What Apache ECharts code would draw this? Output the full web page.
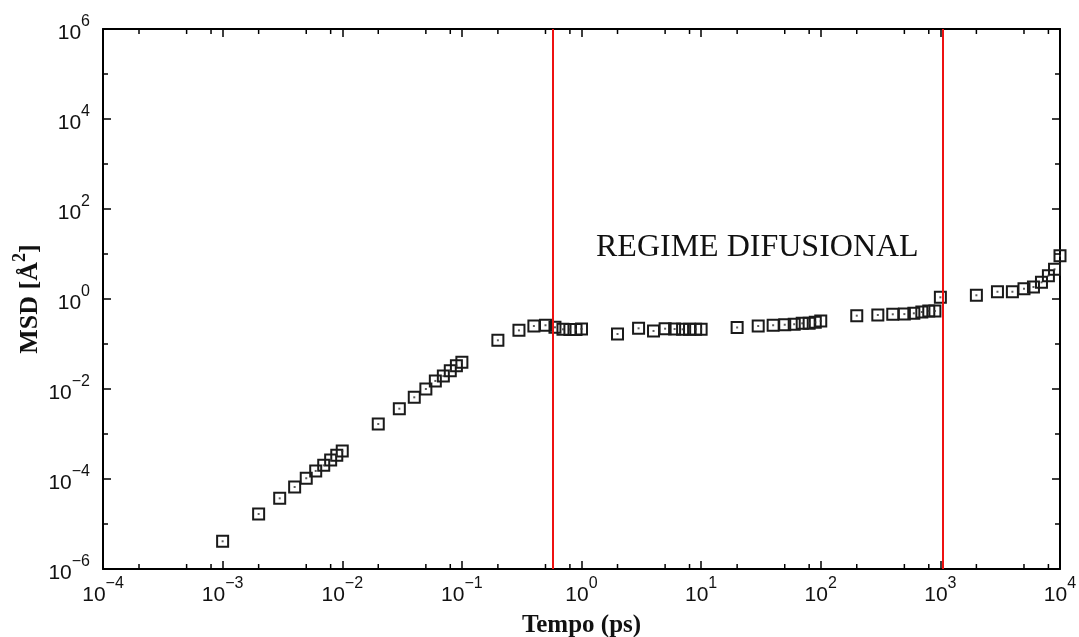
<!DOCTYPE html>
<html>
<head>
<meta charset="utf-8">
<script src="https://cdn.jsdelivr.net/npm/echarts@6/dist/echarts.min.js"></script>
<style>
html,body{margin:0;padding:0;background:#fff;}
#chart{width:1079px;height:637px;}
</style>
</head>
<body>
<div id="chart"></div>
<script>
// Tempo (ps)
const tempo = [
  0.001,0.002,0.003,0.004,0.005,0.006,0.007,0.008,0.009,0.01,
  0.02,0.03,0.04,0.05,0.06,0.07,0.08,0.09,0.1,
  0.2,0.3,0.4,0.5,0.6,0.7,0.8,0.9,1,
  2,3,4,5,6,7,8,9,10,
  20,30,40,50,60,70,80,90,100,
  200,300,400,500,600,700,800,900,1000,
  2000,3000,4000,5000,6000,7000,8000,9000,10000
];
// MSD [Å^2]
const msd = [
  4.13e-6,1.67e-5,3.72e-5,6.64e-5,1.04e-4,1.51e-4,2.01e-4,2.64e-4,3.36e-4,4.19e-4,
  1.67e-3,3.65e-3,6.54e-3,1.0e-2,1.51e-2,1.94e-2,2.55e-2,3.3e-2,3.92e-2,
  0.121,0.201,0.251,0.261,0.235,0.212,0.21,0.21,0.216,
  0.167,0.223,0.195,0.219,0.215,0.212,0.212,0.212,0.212,
  0.233,0.251,0.261,0.268,0.275,0.288,0.288,0.303,0.324,
  0.426,0.441,0.457,0.462,0.481,0.514,0.541,0.541,1.09,
  1.21,1.45,1.45,1.69,1.85,2.35,3.3,4.57,9.17
];
// regime boundaries (ps)
const regimeLines = [0.573, 1045];
const regimeLabel = 'REGIME DIFUSIONAL';
// minor tick values
const xMinorTicks = [];
[1e-4,1e-3,1e-2,1e-1,1,10,100,1000].forEach(d => { [2,5,8].forEach(m => xMinorTicks.push(m*d)); });
const yMinorTicks = [1e5,1e3,1e1,1e-1,1e-3,1e-5];

const points = tempo.map((t,i) => [t, msd[i]]);

function powLabel(v){
  const e = Math.round(Math.log10(v));
  const s = String(e).replace('-', '\u2212');
  return '{b|10}{s|' + s + '}';
}
const labelRich = {
  b: {fontSize: 21, fontFamily: 'Liberation Sans', color: '#111', lineHeight: 30, verticalAlign: 'bottom'},
  s: {fontSize: 16, fontFamily: 'Liberation Sans', color: '#111', lineHeight: 16, verticalAlign: 'top'}
};
const axisLineStyle = {show: true, lineStyle: {color: '#000', width: 2}};
const majorTick = {show: true, inside: true, length: 8, lineStyle: {color: '#000', width: 1.5}};

function xAxisCfg(pos, showLabel){
  return {
    type: 'log', logBase: 10, min: 1e-4, max: 1e4, interval: 1, position: pos,
    axisLine: axisLineStyle, axisTick: majorTick, splitLine: {show: false},
    axisLabel: showLabel ? {show: true, margin: 7, formatter: powLabel, rich: labelRich} : {show: false}
  };
}
function yAxisCfg(pos, showLabel){
  return {
    type: 'log', logBase: 10, min: 1e-6, max: 1e6, interval: 2, position: pos,
    axisLine: axisLineStyle, axisTick: majorTick, splitLine: {show: false},
    axisLabel: showLabel ? {show: true, margin: 13, formatter: powLabel, rich: labelRich} : {show: false}
  };
}

const chart = echarts.init(document.getElementById('chart'), null, {renderer: 'canvas'});
const xA = xAxisCfg('bottom', true);
xA.name = 'Tempo (ps)'; xA.nameLocation = 'middle'; xA.nameGap = 44; xA.nameMoveOverlap = false;
xA.nameTextStyle = {fontFamily: 'Liberation Serif', fontWeight: 'bold', fontSize: 25, color: '#111'};
const yA = yAxisCfg('left', true);
yA.name = '{n|MSD [Å}{s|2}{n|]}'; yA.nameLocation = 'middle'; yA.nameGap = 60; yA.nameMoveOverlap = false;
yA.nameTextStyle = {rich: {
  n: {fontFamily: 'Liberation Serif', fontWeight: 'bold', fontSize: 26, color: '#111', lineHeight: 32, verticalAlign: 'bottom'},
  s: {fontFamily: 'Liberation Serif', fontWeight: 'bold', fontSize: 18, color: '#111', lineHeight: 18, verticalAlign: 'top'}
}};

function minorXRender(params, api){
  const cs = params.coordSys;
  const x = api.coord([api.value(0), 1])[0];
  const st = {stroke: '#000', lineWidth: 1.5};
  return {type: 'group', children: [
    {type: 'line', shape: {x1: x, y1: cs.y + cs.height, x2: x, y2: cs.y + cs.height - 5}, style: st},
    {type: 'line', shape: {x1: x, y1: cs.y, x2: x, y2: cs.y + 5}, style: st}
  ]};
}
function minorYRender(params, api){
  const cs = params.coordSys;
  const y = api.coord([1, api.value(1)])[1];
  const st = {stroke: '#000', lineWidth: 1.5};
  return {type: 'group', children: [
    {type: 'line', shape: {x1: cs.x, y1: y, x2: cs.x + 5, y2: y}, style: st},
    {type: 'line', shape: {x1: cs.x + cs.width, y1: y, x2: cs.x + cs.width - 5, y2: y}, style: st}
  ]};
}

chart.setOption({
  animation: false,
  backgroundColor: '#fff',
  grid: {left: 103, right: 19, top: 29, bottom: 68, containLabel: false, outerBoundsMode: 'none'},
  xAxis: [xA, xAxisCfg('top', false)],
  yAxis: [yA, yAxisCfg('right', false)],
  graphic: [{
    type: 'text', left: 596, top: 232, z: 10,
    style: {text: regimeLabel, fontFamily: 'Liberation Serif', fontSize: 32, fill: '#111'}
  }],
  series: [
    {
      type: 'custom', renderItem: minorXRender, data: xMinorTicks.map(v => [v, 1]),
      encode: {x: 0, y: 1}, clip: false, silent: true, z: 5
    },
    {
      type: 'custom', renderItem: minorYRender, data: yMinorTicks.map(v => [1, v]),
      encode: {x: 0, y: 1}, clip: false, silent: true, z: 5
    },
    {
      type: 'scatter', data: points, symbol: 'rect', symbolSize: 11,
      itemStyle: {color: 'rgba(0,0,0,0)', borderColor: '#1a1a1a', borderWidth: 2, opacity: 1},
      z: 3,
      markLine: {
        silent: true, symbol: ['none', 'none'], label: {show: false},
        lineStyle: {color: '#ee1111', width: 2, type: 'solid'},
        data: regimeLines.map(v => ({xAxis: v}))
      }
    },
    {
      type: 'scatter', data: points, symbol: 'rect', symbolSize: 2,
      itemStyle: {color: '#333'}, z: 4
    }
  ]
});
</script>
</body>
</html>
